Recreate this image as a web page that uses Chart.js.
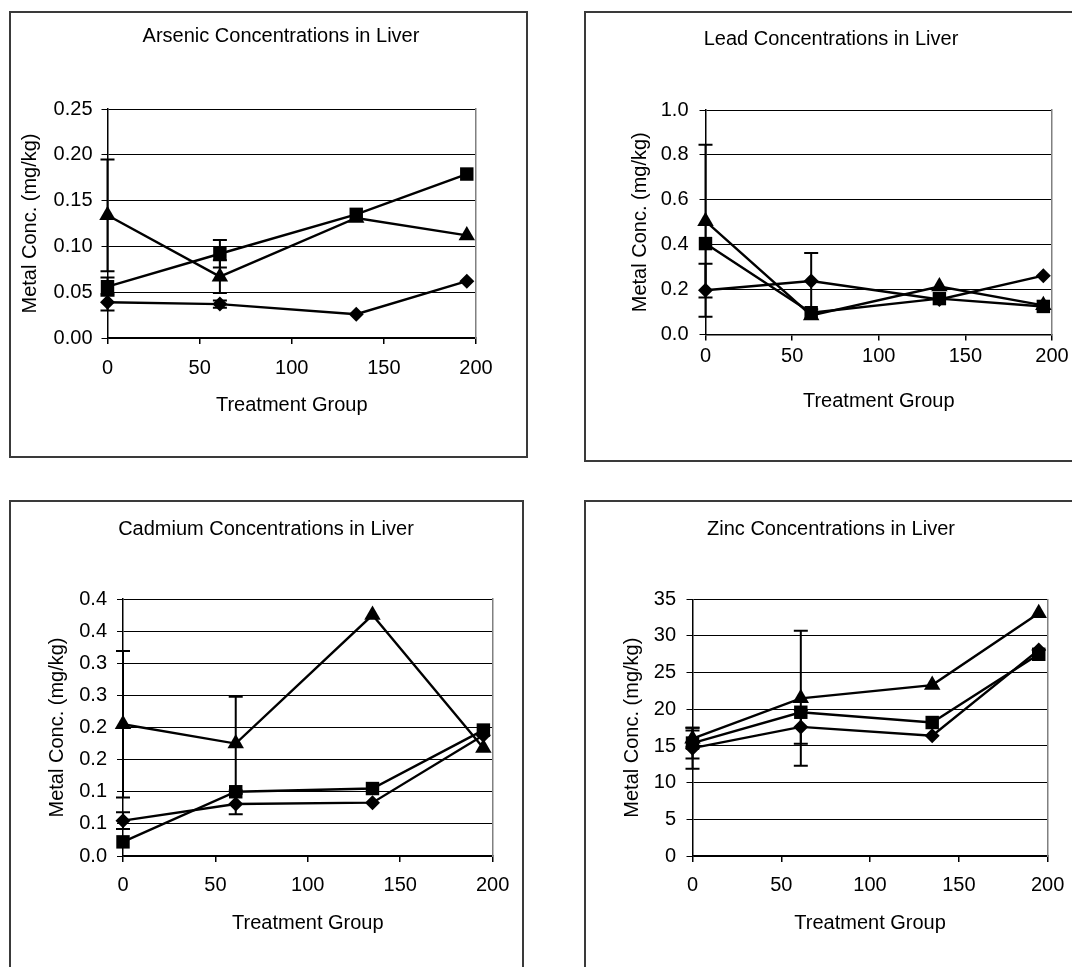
<!DOCTYPE html>
<html><head><meta charset="utf-8">
<script src="https://cdn.jsdelivr.net/npm/chart.js@4.4.1/dist/chart.umd.min.js"></script>
<style>
html,body{margin:0;padding:0;background:#fff;width:1072px;height:967px;overflow:hidden;position:relative;}
.box{position:absolute;box-sizing:border-box;border:2px solid #3a3a3a;}
canvas{position:absolute;}
</style></head><body>
<script>
// ---------- data ----------
const treatmentGroups = [0, 61, 135, 195];

const arsenicDiamond  = [0.039, 0.037, 0.026, 0.062];
const arsenicSquare   = [0.056, 0.092, 0.135, 0.179];
const arsenicTriangle = [0.134, 0.067, 0.131, 0.112];
const arsenicDiamondErr  = [0.009, 0.004, 0, 0];
const arsenicSquareErr   = [0.010, 0.015, 0, 0];
const arsenicTriangleErr = [0.061, 0.018, 0, 0];

const leadDiamond  = [0.197, 0.238, 0.156, 0.262];
const leadSquare   = [0.405, 0.097, 0.160, 0.125];
const leadTriangle = [0.505, 0.085, 0.214, 0.130];
const leadDiamondErr  = [0.118, 0.125, 0, 0];
const leadSquareErr   = [0, 0, 0, 0];
const leadTriangleErr = [0.34, 0, 0, 0];

const cadmiumDiamond  = [0.055, 0.081, 0.083, 0.188];
const cadmiumSquare   = [0.022, 0.100, 0.105, 0.196];
const cadmiumTriangle = [0.205, 0.175, 0.375, 0.168];
const cadmiumDiamondErr  = [0.013, 0.016, 0, 0];
const cadmiumSquareErr   = [0, 0, 0, 0];
const cadmiumTriangleErr = [0.114, 0.073, 0, 0];

const zincDiamond  = [14.7, 17.6, 16.4, 28.1];
const zincSquare   = [15.4, 19.6, 18.2, 27.5];
const zincTriangle = [16.0, 21.5, 23.3, 33.1];
const zincDiamondErr  = [2.8, 2.3, 0, 0];
const zincSquareErr   = [2.1, 0, 0, 0];
const zincTriangleErr = [1.1, 9.2, 0, 0];

const xTickLabels = ['0', '50', '100', '150', '200'];
const arsenicTicks = ['0.00', '0.05', '0.10', '0.15', '0.20', '0.25'];
const leadTicks    = ['0.0', '0.2', '0.4', '0.6', '0.8', '1.0'];
const cadmiumTicks = ['0.0', '0.1', '0.1', '0.2', '0.2', '0.3', '0.3', '0.4', '0.4'];
const zincTicks    = ['0', '5', '10', '15', '20', '25', '30', '35'];

const chartTitles = ['Arsenic Concentrations in Liver', 'Lead Concentrations in Liver',
                     'Cadmium Concentrations in Liver', 'Zinc Concentrations in Liver'];
const xAxisTitle = 'Treatment Group';
const yAxisTitle = 'Metal Conc. (mg/kg)';

// ---------- drawing ----------
const FONT = "'Liberation Sans', Arial, Helvetica, sans-serif";

const errorBarPlugin = {
  id: 'errorBars',
  afterDatasetsDraw(chart) {
    const ctx = chart.ctx, xs = chart.scales.x, ys = chart.scales.y;
    ctx.save();
    ctx.strokeStyle = '#000';
    ctx.lineWidth = 2;
    chart.data.datasets.forEach(ds => {
      (ds.errors || []).forEach((e, j) => {
        if (!e) return;
        const v = ds.data[j].y;
        const px = xs.getPixelForValue(treatmentGroups[j]);
        const top = ys.getPixelForValue(v + e), bot = ys.getPixelForValue(v - e);
        ctx.beginPath();
        ctx.moveTo(px, top); ctx.lineTo(px, bot);
        ctx.moveTo(px - 7, top); ctx.lineTo(px + 7, top);
        ctx.moveTo(px - 7, bot); ctx.lineTo(px + 7, bot);
        ctx.stroke();
      });
    });
    ctx.restore();
  }
};

function makeSeries(vals, errs, style, radius, name) {
  return {
    label: name,
    data: vals.map((v, i) => ({x: treatmentGroups[i], y: v})),
    errors: errs,
    clip: false,
    borderColor: '#000', backgroundColor: '#000', borderWidth: 2.4,
    pointStyle: style, pointRadius: radius, pointBorderWidth: 0,
    pointBackgroundColor: '#000', pointBorderColor: '#000',
    tension: 0, fill: false, showLine: true
  };
}

function makePanel(p) {
  const box = document.createElement('div');
  box.className = 'box';
  Object.assign(box.style, {left: p.box[0] + 'px', top: p.box[1] + 'px', width: p.box[2] + 'px', height: p.box[3] + 'px'});
  document.body.appendChild(box);

  const cv = document.createElement('canvas');
  cv.width = p.cv[2]; cv.height = p.cv[3];
  Object.assign(cv.style, {left: p.cv[0] + 'px', top: p.cv[1] + 'px', width: p.cv[2] + 'px', height: p.cv[3] + 'px'});
  document.body.appendChild(cv);

  const cl = p.cv[0], ct = p.cv[1], cr = p.cv[0] + p.cv[2], cb = p.cv[1] + p.cv[3];
  const titlePadTop = p.titleY - ct - 12;
  const titlePadBottom = p.plot.t - ct - titlePadTop - 24;

  new Chart(cv, {
    type: 'line',
    data: {datasets: [
      makeSeries(p.d, p.de, 'rectRot', 7.5, 'Diamond series'),
      makeSeries(p.s, p.se, 'rect', 9.5, 'Square series'),
      makeSeries(p.tr, p.tre, 'triangle', 9.5, 'Triangle series')
    ]},
    options: {
      responsive: false, animation: false, devicePixelRatio: 1,
      layout: {padding: 0},
      plugins: {
        legend: {display: false}, tooltip: {enabled: false},
        title: {display: true, text: p.title, color: '#000',
          font: {family: FONT, size: 20, weight: 'normal', lineHeight: 1.2},
          padding: {top: titlePadTop, bottom: titlePadBottom}}
      },
      scales: {
        x: {type: 'linear', position: 'bottom', min: 0, max: 200,
          afterFit: s => { s.height = cb - p.plot.b; },
          ticks: {stepSize: 50, color: '#000', font: {family: FONT, size: 20},
            padding: p.xLabelOff - 6 - 12, maxRotation: 0,
            callback: v => xTickLabels[Math.round(v / 50)]},
          grid: {drawOnChartArea: false, drawTicks: true, tickLength: 6, color: '#000', lineWidth: 1.5},
          border: {display: true, color: '#000', width: 1.5},
          title: {display: true, text: xAxisTitle, color: '#000',
            font: {family: FONT, size: 20, lineHeight: 1.2},
            padding: {top: 0, bottom: cb - p.xTitleY - 12}}
        },
        y: {type: 'linear', position: 'left', min: 0, max: p.ymax,
          afterFit: s => { s.width = p.plot.l - cl; },
          ticks: {stepSize: p.ystep, color: '#000', font: {family: FONT, size: 20},
            padding: p.yTickGap - 6,
            callback: v => p.yTicks[Math.round(v / p.ystep)]},
          grid: {drawOnChartArea: true, drawTicks: true, tickLength: 6, color: '#000', lineWidth: 1},
          border: {display: true, color: '#000', width: 1.5},
          title: {display: true, text: yAxisTitle, color: '#000',
            font: {family: FONT, size: 20, lineHeight: 1.2},
            padding: {top: p.yTitleX - cl - 12, bottom: 0}}
        },
        y2: {type: 'linear', position: 'right', display: true,
          afterFit: s => { s.width = cr - p.plot.r; },
          ticks: {display: false}, grid: {display: false},
          border: {display: true, color: '#808080', width: 1.5}
        }
      }
    },
    plugins: [errorBarPlugin]
  });
}

const panels = [
  {box: [9, 11, 519, 447], cv: [11, 13, 540, 443], plot: {l: 107.5, r: 476, t: 109, b: 338},
   titleY: 36.7, yTitleX: 30, yTickGap: 15, xLabelOff: 30.3, xTitleY: 405,
   title: chartTitles[0], ymax: 0.25, ystep: 0.05, yTicks: arsenicTicks,
   d: arsenicDiamond, de: arsenicDiamondErr, s: arsenicSquare, se: arsenicSquareErr, tr: arsenicTriangle, tre: arsenicTriangleErr},
  {box: [584, 11, 520, 451], cv: [586, 13, 490, 447], plot: {l: 705.5, r: 1052, t: 110, b: 334.5},
   titleY: 39, yTitleX: 640, yTickGap: 17, xLabelOff: 22.4, xTitleY: 401.7,
   title: chartTitles[1], ymax: 1.0, ystep: 0.2, yTicks: leadTicks,
   d: leadDiamond, de: leadDiamondErr, s: leadSquare, se: leadSquareErr, tr: leadTriangle, tre: leadTriangleErr},
  {box: [9, 500, 515, 480], cv: [11, 502, 510, 464], plot: {l: 123, r: 495, t: 599, b: 856},
   titleY: 529.3, yTitleX: 57, yTickGap: 16, xLabelOff: 29.7, xTitleY: 923.3,
   title: chartTitles[2], ymax: 0.4, ystep: 0.05, yTicks: cadmiumTicks,
   d: cadmiumDiamond, de: cadmiumDiamondErr, s: cadmiumSquare, se: cadmiumSquareErr, tr: cadmiumTriangle, tre: cadmiumTriangleErr},
  {box: [584, 500, 520, 480], cv: [586, 502, 490, 464], plot: {l: 692.5, r: 1052, t: 599.3, b: 856},
   titleY: 529.3, yTitleX: 632.6, yTickGap: 16.5, xLabelOff: 29.7, xTitleY: 923.3,
   title: chartTitles[3], ymax: 35, ystep: 5, yTicks: zincTicks,
   d: zincDiamond, de: zincDiamondErr, s: zincSquare, se: zincSquareErr, tr: zincTriangle, tre: zincTriangleErr}
];

panels.forEach(makePanel);
</script>
</body></html>
